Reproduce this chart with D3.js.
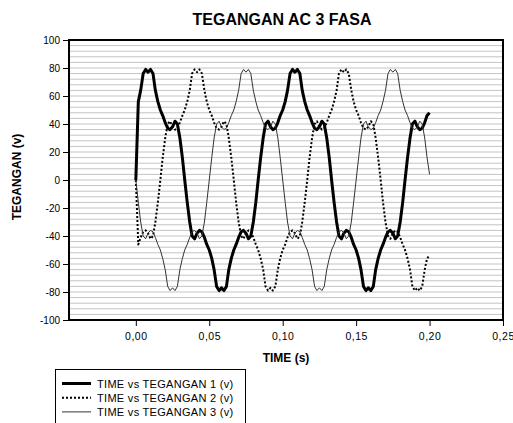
<html>
<head>
<meta charset="utf-8">
<script src="https://d3js.org/d3.v7.min.js"></script>
<style>
body { margin: 0; background: white; }
text { font-family: "Liberation Sans", Arial, sans-serif; }
</style>
</head>
<body>
<div id="chart"></div>
<script>
// time (s) of every sample
var time = [
  0, 0.0017, 0.0033, 0.005, 0.0067, 0.0083, 0.01, 0.0117, 0.0133, 0.015, 0.0167, 0.0183, 0.02, 0.0217, 0.0233, 0.025, 0.0267, 0.0283, 0.03, 0.0317, 0.0333, 0.035, 0.0367, 0.0383, 0.04, 0.0417, 0.0433, 0.045, 0.0467, 0.0483,
  0.05, 0.0517, 0.0533, 0.055, 0.0567, 0.0583, 0.06, 0.0617, 0.0633, 0.065, 0.0667, 0.0683, 0.07, 0.0717, 0.0733, 0.075, 0.0767, 0.0783, 0.08, 0.0817, 0.0833, 0.085, 0.0867, 0.0883, 0.09, 0.0917, 0.0933, 0.095, 0.0967, 0.0983,
  0.1, 0.1017, 0.1033, 0.105, 0.1067, 0.1083, 0.11, 0.1117, 0.1133, 0.115, 0.1167, 0.1183, 0.12, 0.1217, 0.1233, 0.125, 0.1267, 0.1283, 0.13, 0.1317, 0.1333, 0.135, 0.1367, 0.1383, 0.14, 0.1417, 0.1433, 0.145, 0.1467, 0.1483,
  0.15, 0.1517, 0.1533, 0.155, 0.1567, 0.1583, 0.16, 0.1617, 0.1633, 0.165, 0.1667, 0.1683, 0.17, 0.1717, 0.1733, 0.175, 0.1767, 0.1783, 0.18, 0.1817, 0.1833, 0.185, 0.1867, 0.1883, 0.19, 0.1917, 0.1933, 0.195, 0.1967, 0.1983,
  0.2
]

var tegangan1 = [
  0, 56, 64, 76, 79, 77, 79, 76, 64, 56, 50, 46, 41, 37, 36, 38, 42, 40, 30, 16, 0, -16, -30, -40, -42, -38, -36, -37, -41, -46,
  -50, -56, -64, -76, -79, -77, -79, -76, -64, -56, -50, -46, -41, -37, -36, -38, -42, -40, -30, -16, 0, 16, 30, 40, 42, 38, 36, 37, 41, 46,
  50, 56, 64, 76, 79, 77, 79, 76, 64, 56, 50, 46, 41, 37, 36, 38, 42, 40, 30, 16, 0, -16, -30, -40, -42, -38, -36, -37, -41, -46,
  -50, -56, -64, -76, -79, -77, -79, -76, -64, -56, -50, -46, -41, -37, -36, -38, -42, -40, -30, -16, 0, 16, 30, 40, 42, 38, 36, 37, 41, 46,
  48
]

var tegangan2 = [
  0, -46, -41, -37, -36, -38, -42, -40, -30, -16, 0, 16, 30, 40, 42, 38, 36, 37, 41, 46, 50, 56, 64, 76, 79, 77, 79, 76, 64, 56,
  50, 46, 41, 37, 36, 38, 42, 40, 30, 16, 0, -16, -30, -40, -42, -38, -36, -37, -41, -46, -50, -56, -64, -76, -79, -77, -79, -76, -64, -56,
  -50, -46, -41, -37, -36, -38, -42, -40, -30, -16, 0, 16, 30, 40, 42, 38, 36, 37, 41, 46, 50, 56, 64, 76, 79, 77, 79, 76, 64, 56,
  50, 46, 41, 37, 36, 38, 42, 40, 30, 16, 0, -16, -30, -40, -42, -38, -36, -37, -41, -46, -50, -56, -64, -76, -79, -77, -79, -76, -64, -56,
  -54
]

var tegangan3 = [
  0, -16, -30, -40, -42, -38, -36, -37, -41, -46, -50, -56, -64, -76, -79, -77, -79, -76, -64, -56, -50, -46, -41, -37, -36, -38, -42, -40, -30, -16,
  0, 16, 30, 40, 42, 38, 36, 37, 41, 46, 50, 56, 64, 76, 79, 77, 79, 76, 64, 56, 50, 46, 41, 37, 36, 38, 42, 40, 30, 16,
  0, -16, -30, -40, -42, -38, -36, -37, -41, -46, -50, -56, -64, -76, -79, -77, -79, -76, -64, -56, -50, -46, -41, -37, -36, -38, -42, -40, -30, -16,
  0, 16, 30, 40, 42, 38, 36, 37, 41, 46, 50, 56, 64, 76, 79, 77, 79, 76, 64, 56, 50, 46, 41, 37, 36, 38, 42, 40, 30, 16,
  4
]

var seriesNames = ['TIME vs TEGANGAN 1 (v)', 'TIME vs TEGANGAN 2 (v)', 'TIME vs TEGANGAN 3 (v)']
var xTicks = [0, 0.05, 0.10, 0.15, 0.20, 0.25]
var yTicks = [-100, -80, -60, -40, -20, 0, 20, 40, 60, 80, 100]

var styles = [
  { width: 3, dash: null, color: '#000' },
  { width: 2, dash: '2,2', color: '#000' },
  { width: 1, dash: null, color: '#333' }
]

var svg = d3.select('#chart').append('svg')
    .attr('width', 513)
    .attr('height', 423)

var xs = d3.scaleLinear().domain([-0.0455, 0.25]).range([69, 503])
var ys = d3.scaleLinear().domain([-100, 100]).range([320, 40])

// minor gridlines every 4 volts
svg.append('g')
    .selectAll('line')
    .data(d3.range(-96, 100, 4))
    .enter()
    .append('line')
    .attr('x1', 69).attr('x2', 503)
    .attr('y1', function(d) { return ys(d) })
    .attr('y2', function(d) { return ys(d) })
    .attr('stroke', '#c4c4c4')
    .attr('stroke-width', 1)

var series = [tegangan1, tegangan2, tegangan3]
var line = d3.line()
    .x(function(d) { return xs(d[0]) })
    .y(function(d) { return ys(d[1]) })

series.forEach(function(vals, i) {
    var pts = time.map(function(t, k) { return [t, vals[k]] })
    svg.append('path')
        .datum(pts)
        .attr('d', line)
        .attr('fill', 'none')
        .attr('stroke', styles[i].color)
        .attr('stroke-width', styles[i].width)
        .attr('stroke-dasharray', styles[i].dash)
        .attr('stroke-linejoin', 'round')
})

// plot frame
svg.append('rect')
    .attr('x', 69).attr('y', 40)
    .attr('width', 434).attr('height', 280)
    .attr('fill', 'none')
    .attr('stroke', '#000')
    .attr('stroke-width', 2)

var yAxis = svg.append('g')
    .attr('transform', 'translate(68,0)')
    .call(d3.axisLeft(ys).tickValues(yTicks).tickSize(5).tickPadding(3)
        .tickFormat(function(d) { return String(d) }))
yAxis.select('.domain').remove()
yAxis.selectAll('text').style('font-size', '10px').style('font-family', 'Liberation Sans, Arial')

var xAxis = svg.append('g')
    .attr('transform', 'translate(0,321)')
    .call(d3.axisBottom(xs).tickValues(xTicks).tickSize(5).tickPadding(7)
        .tickFormat(function(d) { return d3.format('.2f')(d).replace('.', ',') }))
xAxis.select('.domain').remove()
xAxis.selectAll('text').style('font-size', '10.5px').style('font-family', 'Liberation Sans, Arial').style('letter-spacing', '0.5px')

svg.append('text')
    .attr('x', 282).attr('y', 25)
    .attr('text-anchor', 'middle')
    .style('font-size', '16px').style('font-weight', 'bold')
    .text('TEGANGAN AC 3 FASA')

svg.append('text')
    .attr('x', 286).attr('y', 362)
    .attr('text-anchor', 'middle')
    .style('font-size', '12px').style('font-weight', 'bold')
    .text('TIME (s)')

svg.append('text')
    .attr('transform', 'translate(21,177) rotate(-90)')
    .attr('text-anchor', 'middle')
    .style('font-size', '12px').style('font-weight', 'bold')
    .text('TEGANGAN (v)')

// legend
var legend = svg.append('g')
legend.append('rect')
    .attr('x', 55.5).attr('y', 369.5)
    .attr('width', 190).attr('height', 60)
    .attr('fill', 'white')
    .attr('stroke', '#000')
    .attr('stroke-width', 1)

seriesNames.forEach(function(name, i) {
    var ly = 383.5 + i * 14.2
    legend.append('line')
        .attr('x1', 62).attr('x2', 91)
        .attr('y1', ly).attr('y2', ly)
        .attr('stroke', styles[i].color)
        .attr('stroke-width', styles[i].width)
        .attr('stroke-dasharray', styles[i].dash)
    legend.append('text')
        .attr('x', 97).attr('y', ly + 4)
        .style('font-size', '11px')
        .style('letter-spacing', '0.3px')
        .text(name)
})
</script>
</body>
</html>
